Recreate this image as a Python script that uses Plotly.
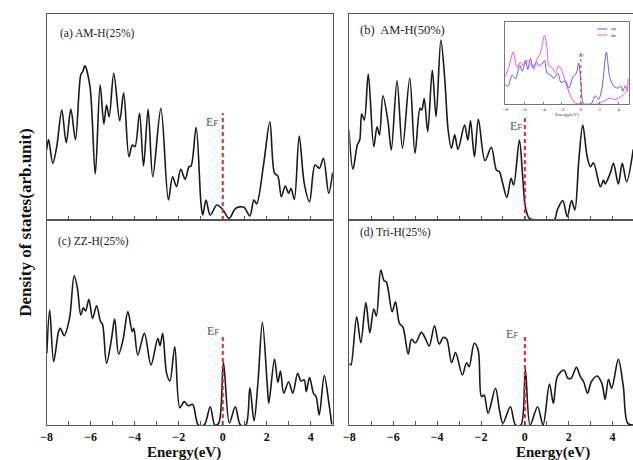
import plotly.graph_objects as go

# ---------------- data (energy in eV, DOS in arb. units, normalised 0..1) -------------
a_E = [-8.0, -7.91, -7.72, -7.54, -7.31, -7.11, -6.9, -6.69, -6.45, -6.36, -6.26, -6.03, -5.79, -5.57,
       -5.40, -5.28, -5.16, -4.95, -4.68, -4.50, -4.26, -4.11, -3.99, -3.78, -3.60, -3.39, -3.18, -2.81,
       -2.47, -2.28, -2.10, -1.91, -1.71, -1.53, -1.44, -1.21, -0.99, -0.91, -0.76, -0.57, -0.27, -0.01,
       0.29, 0.59, 0.96, 1.23, 1.41, 1.54, 1.86, 2.14, 2.35, 2.50, 2.66, 2.84, 2.99, 3.10, 3.25, 3.47,
       3.70, 3.94, 4.19, 4.39, 4.57, 4.81, 4.99]
a_D = [0.34, 0.39, 0.275, 0.356, 0.534, 0.375, 0.537, 0.39, 0.704, 0.72, 0.748, 0.647, 0.223, 0.655,
       0.466, 0.558, 0.501, 0.712, 0.482, 0.618, 0.307, 0.364, 0.356, 0.518, 0.262, 0.537, 0.21, 0.542,
       0.097, 0.21, 0.162, 0.246, 0.198, 0.259, 0.262, 0.45, 0.081, 0.024, 0.097, 0.024, 0.073, 0.052,
       0.008, 0.057, 0.062, 0.019, 0.097, 0.078, 0.275, 0.477, 0.227, 0.214, 0.113, 0.165, 0.13, 0.154,
       0.1, 0.408, 0.178, 0.089, 0.267, 0.251, 0.3, 0.13, 0.23]

b_E = [-8.02, -7.84, -7.64, -7.53, -7.44, -7.32, -7.14, -6.89, -6.74, -6.63, -6.47, -6.24, -6.09, -5.83,
       -5.58, -5.25, -5.01, -4.78, -4.70, -4.59, -4.43, -4.22, -4.05, -3.83, -3.65, -3.50, -3.35, -3.20,
       -3.05, -2.75, -2.60, -2.48, -2.30, -2.12, -1.82, -1.53, -1.30, -1.16, -1.03, -0.82, -0.63, -0.51,
       -0.25, -0.10, 0.02, 0.20, 0.5, 1.33, 1.48, 1.73, 1.93, 2.13, 2.28, 2.46, 2.64, 2.84, 2.99, 3.13,
       3.44, 3.59, 3.66, 3.89, 4.04, 4.26, 4.44, 4.64, 4.94]
b_D = [0.437, 0.246, 0.364, 0.388, 0.515, 0.485, 0.709, 0.356, 0.453, 0.413, 0.603, 0.477, 0.34, 0.676,
       0.348, 0.688, 0.324, 0.542, 0.534, 0.59, 0.429, 0.728, 0.501, 0.874, 0.68, 0.437, 0.348, 0.413,
       0.343, 0.461, 0.388, 0.482, 0.307, 0.489, 0.288, 0.353, 0.243, 0.234, 0.186, 0.11, 0.202, 0.17,
       0.388, 0.21, 0.065, 0.008, 0.0, 0.0, 0.049, 0.094, 0.016, 0.094, 0.049, 0.291, 0.461, 0.307,
       0.259, 0.278, 0.162, 0.194, 0.175, 0.227, 0.275, 0.175, 0.275, 0.186, 0.343]

c_E = [-7.99, -7.86, -7.68, -7.46, -7.38, -7.20, -6.96, -6.75, -6.60, -6.45, -6.33, -6.23, -6.08, -5.91,
       -5.73, -5.55, -5.46, -5.28, -5.06, -4.91, -4.73, -4.53, -4.31, -4.11, -4.04, -3.86, -3.56, -3.26,
       -2.95, -2.85, -2.73, -2.55, -2.40, -2.18, -1.95, -1.75, -1.57, -1.37, -1.11, -0.84, -0.57, -0.36,
       -0.18, 0.03, 0.30, 0.57, 0.80, 1.05, 1.23, 1.42, 1.60, 1.80, 2.02, 2.09, 2.35, 2.50, 2.62, 2.77,
       2.99, 3.18, 3.40, 3.55, 3.70, 3.79, 3.94, 4.12, 4.24, 4.38, 4.61, 4.83, 4.95]
c_D = [0.35, 0.561, 0.309, 0.455, 0.472, 0.436, 0.52, 0.728, 0.667, 0.537, 0.572, 0.556, 0.613, 0.52,
       0.582, 0.504, 0.491, 0.301, 0.415, 0.517, 0.345, 0.415, 0.553, 0.455, 0.472, 0.341, 0.447, 0.293,
       0.423, 0.387, 0.447, 0.252, 0.215, 0.382, 0.084, 0.114, 0.094, 0.101, 0.0, 0.0, 0.089, 0.0,
       0.01, 0.306, 0.01, 0.089, 0.0, 0.0, 0.182, 0.02, 0.211, 0.501, 0.195, 0.106, 0.322, 0.208, 0.263,
       0.155, 0.211, 0.155, 0.252, 0.215, 0.22, 0.163, 0.231, 0.155, 0.138, 0.049, 0.241, 0.098, 0.003]

d_E = [-8.0, -7.93, -7.67, -7.48, -7.25, -7.07, -6.89, -6.77, -6.57, -6.42, -6.32, -6.23, -6.05, -5.90,
       -5.72, -5.56, -5.32, -5.17, -4.99, -4.72, -4.54, -4.36, -4.12, -3.91, -3.71, -3.56, -3.34, -3.16,
       -2.85, -2.66, -2.54, -2.31, -2.13, -1.98, -1.86, -1.68, -1.34, -1.16, -1.00, -0.66, -0.43, -0.18,
       0.02, 0.24, 0.58, 0.83, 1.12, 1.30, 1.48, 1.78, 1.96, 2.11, 2.35, 2.53, 2.68, 2.86, 3.03, 3.29,
       3.51, 3.66, 3.81, 3.96, 4.26, 4.49, 4.69, 4.99]
d_D = [0.301, 0.293, 0.528, 0.401, 0.597, 0.45, 0.566, 0.532, 0.756, 0.704, 0.699, 0.659, 0.553, 0.601,
       0.496, 0.477, 0.346, 0.418, 0.401, 0.452, 0.423, 0.385, 0.484, 0.395, 0.428, 0.418, 0.304, 0.353,
       0.244, 0.304, 0.284, 0.399, 0.366, 0.138, 0.146, 0.057, 0.179, 0.073, 0.008, 0.089, 0.0, 0.0,
       0.272, 0.0, 0.089, 0.0, 0.2, 0.106, 0.236, 0.268, 0.228, 0.228, 0.281, 0.236, 0.211, 0.155, 0.211,
       0.239, 0.203, 0.125, 0.223, 0.179, 0.32, 0.187, 0.008, 0.0]

# inset of panel (b): spin-resolved DOS
up_E = [-8.0, -7.72, -7.26, -6.91, -6.46, -6.2, -5.86, -5.61, -5.33, -5.05, -4.70, -4.45, -4.10, -3.85,
        -3.56, -3.2, -2.87, -2.45, -2.09, -1.63, -1.28, -0.82, -0.47, -0.23, 0.02, 0.30, 1.07, 1.53,
        1.88, 2.24, 2.70, 3.05, 3.47, 3.89, 4.24, 4.45, 4.70, 5.0]
up_D = [0.215, 0.195, 0.317, 0.277, 0.42, 0.36, 0.48, 0.38, 0.50, 0.40, 0.46, 0.42, 0.44, 0.48,
        0.34, 0.32, 0.28, 0.34, 0.235, 0.256, 0.175, 0.30, 0.34, 0.45, 0.23, 0.0, 0.0, 0.09,
        0.05, 0.175, 0.57, 0.30, 0.195, 0.175, 0.195, 0.14, 0.2, 0.14]
dn_E = [-8.0, -7.62, -7.16, -6.73, -6.38, -6.04, -5.68, -5.33, -4.98, -4.70, -4.35, -4.10, -3.85, -3.56,
        -3.40, -3.04, -2.69, -2.34, -1.98, -1.63, -1.10, -0.58, 0.7, 1.72, 2.41, 3.12, 3.65, 4.35, 4.88, 5.0]
dn_D = [0.30, 0.40, 0.57, 0.40, 0.46, 0.42, 0.48, 0.44, 0.38, 0.48, 0.54, 0.64, 0.756, 0.60,
        0.42, 0.40, 0.34, 0.42, 0.36, 0.24, 0.09, 0.01, 0.0, 0.0, 0.03, 0.065, 0.05, 0.09, 0.146, 0.28]

panel_labels = ["(a) AM-H(25%)", "(b)  AM-H(50%)", "(c) ZZ-H(25%)", "(d) Tri-H(25%)"]
tick_vals = [-8, -6, -4, -2, 0, 2, 4]
ef_top = [0.52, 0.50, 0.44, 0.43]     # top of the Fermi-level marker in each panel

W, H = 633, 460
SERIF = "Liberation Serif"
FRAME = "#555555"

def px(x):
    return x / W

def py(y):
    return 1 - y / H

fig = go.Figure()

series = [(a_E, a_D), (b_E, b_D), (c_E, c_D), (d_E, d_D)]
for i, (e, d) in enumerate(series):
    k = "" if i == 0 else str(i + 1)
    fig.add_trace(go.Scatter(x=e, y=d, mode="lines", xaxis="x" + k, yaxis="y" + k,
                             line=dict(color="#1a1a1a", width=1.6, shape="spline", smoothing=0.9),
                             showlegend=False, hoverinfo="skip"))
    fig.add_trace(go.Scatter(x=[0, 0], y=[0, ef_top[i]], mode="lines", xaxis="x" + k, yaxis="y" + k,
                             line=dict(color="#e8262a", width=2, dash="4px,3px"),
                             showlegend=False, hoverinfo="skip"))

# inset traces
fig.add_trace(go.Scatter(x=up_E, y=up_D, mode="lines", xaxis="x5", yaxis="y5", name="up",
                         line=dict(color="#5a5af0", width=1, shape="spline", smoothing=0.8),
                         showlegend=False, hoverinfo="skip"))
fig.add_trace(go.Scatter(x=dn_E, y=dn_D, mode="lines", xaxis="x5", yaxis="y5", name="dn",
                         line=dict(color="#f050f0", width=1, shape="spline", smoothing=0.8),
                         showlegend=False, hoverinfo="skip"))
fig.add_trace(go.Scatter(x=[0, 0], y=[0, 0.56], mode="lines", xaxis="x5", yaxis="y5",
                         line=dict(color="#e8262a", width=1, dash="dot"),
                         showlegend=False, hoverinfo="skip"))

# panel domains (pixels)
xdom = {1: (41, 330), 2: (346.7, 633), 3: (41, 330), 4: (346.7, 633)}
ydom = {1: (14, 220), 2: (14, 220), 3: (220, 425), 4: (220, 425)}
xmax = {1: 5, 2: 4.93, 3: 5, 4: 4.93}

layout = dict(width=W, height=H, margin=dict(l=0, r=0, t=0, b=0),
              paper_bgcolor="white", plot_bgcolor="white")
for i in range(1, 5):
    k = "" if i == 1 else str(i)
    x0, x1 = xdom[i]
    y0, y1 = ydom[i]
    layout["xaxis" + k] = dict(domain=[px(x0), px(x1)], range=[-8, xmax[i]], anchor="y" + k,
                               showgrid=False, zeroline=False, showline=True, mirror=True,
                               linecolor=FRAME, linewidth=1.3,
                               tickmode="array", tickvals=tick_vals, ticks="inside", ticklen=4,
                               tickcolor=FRAME, showticklabels=(i >= 3),
                               tickfont=dict(family=SERIF, size=12, color="#111", weight="bold"),
                               minor=dict(dtick=1, tick0=-8, ticks="inside", ticklen=4, tickcolor=FRAME))
    layout["yaxis" + k] = dict(domain=[py(y1), py(y0)], range=[0, 1], anchor="x" + k,
                               showgrid=False, zeroline=False, showticklabels=False, ticks="",
                               showline=True, mirror=(i in (1, 3)), linecolor=FRAME, linewidth=1.3)

# inset axes
layout["xaxis5"] = dict(domain=[px(504), px(629)], range=[-8, 5.1], anchor="y5",
                        showgrid=False, zeroline=False, showline=True, mirror=True,
                        linecolor="#777", linewidth=0.8, tickmode="array", tickvals=tick_vals,
                        ticks="inside", ticklen=2, tickcolor="#777",
                        tickfont=dict(family=SERIF, size=5, color="#333"),
                        title=dict(text="Energy(eV)", font=dict(family=SERIF, size=5, color="#333"),
                                   standoff=1))
layout["yaxis5"] = dict(domain=[py(104), py(22)], range=[0, 0.9], anchor="x5",
                        showgrid=False, zeroline=False, showticklabels=False, ticks="",
                        showline=True, mirror=True, linecolor="#777", linewidth=0.8)
fig.update_layout(**layout)


def note(text, x, y, size, color="#222", xanchor="center", angle=0):
    fig.add_annotation(text=text, x=px(x), y=py(y), xref="paper", yref="paper",
                       xanchor=xanchor, yanchor="middle", textangle=angle, showarrow=False,
                       font=dict(family=SERIF, size=size, color=color))


# panel labels
lab_pos = [(52, 33, 11.5), (355, 30, 12.5), (50, 241, 11.5), (355, 233, 11.5)]
for t, (x, y, s) in zip(panel_labels, lab_pos):
    note(t, x, y, s, xanchor="left")

# E_F labels
ef_pos = [(208, 122), (515, 126), (209, 331), (511, 334)]
for (x, y) in ef_pos:
    note("E<span style='font-size:9px'>F</span>", x, y, 12, color="#555")
note("E<span style='font-size:4px'>F</span>", 582, 56, 5, color="#555")

# inset legend
for j, (txt, col) in enumerate([("up", "#5a5af0"), ("dn", "#f050f0")]):
    yy = 29 + j * 6
    fig.add_shape(type="line", xref="paper", yref="paper", x0=px(597), x1=px(607),
                  y0=py(yy), y1=py(yy), line=dict(color=col, width=1))
    note(txt, 609, yy, 5, color="#333", xanchor="left")

# axis titles
note("<b>Density of states(arb.unit)</b>", 19, 223, 17, color="#111", angle=-90)
for x in (180, 552):
    note("<b>Energy(eV)</b>", x, 452, 15, color="#111")

fig.write_html("out.html", config={"displayModeBar": False},
               post_script="document.body.style.margin='0';document.body.style.overflow='hidden';")
